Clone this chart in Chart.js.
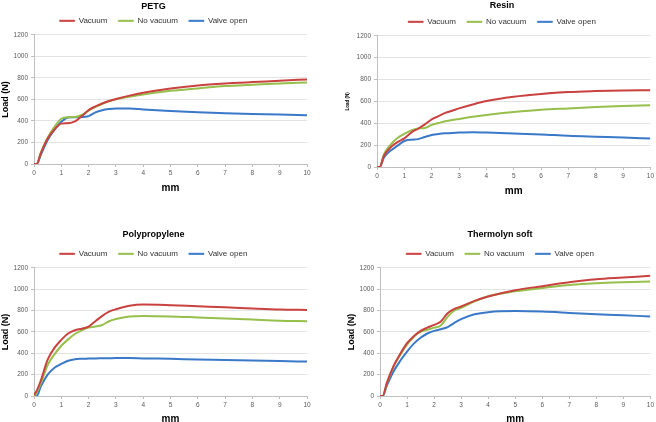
<!DOCTYPE html>
<html>
<head>
<meta charset="utf-8">
<script src="https://cdn.jsdelivr.net/npm/chart.js@4"></script>
<style>
  body { margin: 0; width: 656px; height: 422px; overflow: hidden; background: #fff; position: relative; }
  .panel { position: absolute; }
</style>
</head>
<body>
<div class="panel" style="left:0;top:0;width:328px;height:194px"><canvas id="petg"></canvas></div>
<div class="panel" style="left:328px;top:0;width:328px;height:197px"><canvas id="resin"></canvas></div>
<div class="panel" style="left:0;top:210px;width:328px;height:215px"><canvas id="pp"></canvas></div>
<div class="panel" style="left:328px;top:210px;width:328px;height:215px"><canvas id="thermo"></canvas></div>
<script>
// displacement (mm), shared by all curves
const mm = [0, 0.1, 0.25, 0.5, 0.75, 1, 1.25, 1.5, 1.75, 2, 2.25, 2.5, 2.75, 3, 3.5, 4, 5, 6, 7, 8, 9, 10];
const seriesNames = ['Vacuum', 'No vacuum', 'Valve open'];
const yTicks = [0, 200, 400, 600, 800, 1000, 1200];

// PETG
const petgVacuum = [0, 0, 100, 236, 320, 375, 378, 395, 445, 500, 535, 562, 585, 603, 635, 662, 702, 730, 748, 761, 773, 786];
const petgNoVacuum = [0, 0, 105, 245, 345, 420, 435, 437, 455, 495, 530, 560, 583, 600, 625, 646, 680, 702, 724, 736, 748, 758];
const petgValve = [0, 0, 85, 222, 318, 392, 432, 435, 436, 445, 480, 500, 510, 515, 515, 507, 492, 480, 472, 465, 460, 452];

// Resin
const resinVacuum = [0, 0, 100, 180, 228, 262, 315, 350, 390, 436, 465, 495, 515, 536, 572, 603, 642, 667, 685, 694, 700, 703];
const resinNoVacuum = [0, 0, 115, 205, 265, 303, 335, 352, 357, 385, 402, 418, 430, 440, 460, 476, 503, 524, 536, 548, 558, 564];
const resinValve = [0, 0, 85, 150, 195, 238, 250, 255, 275, 292, 302, 308, 312, 315, 318, 315, 307, 298, 285, 277, 270, 260];

// Polypropylene
const ppVacuum = [10, 50, 145, 340, 450, 525, 585, 615, 630, 650, 700, 750, 790, 812, 845, 856, 850, 840, 831, 819, 809, 806];
const ppNoVacuum = [0, 30, 120, 290, 390, 470, 530, 580, 615, 640, 650, 665, 700, 720, 745, 750, 745, 735, 725, 715, 705, 700];
const ppValve = [0, 0, 90, 200, 265, 300, 330, 345, 348, 350, 352, 353, 354, 355, 355, 352, 348, 342, 338, 333, 327, 322];

// Thermolyn soft
const thVacuum = [0, 0, 120, 280, 395, 494, 560, 609, 640, 666, 697, 775, 815, 838, 890, 931, 990, 1028, 1065, 1093, 1109, 1125];
const thNoVacuum = [0, 0, 115, 275, 385, 480, 555, 600, 620, 640, 660, 740, 800, 825, 885, 934, 980, 1012, 1038, 1055, 1065, 1072];
const thValve = [0, 0, 95, 230, 330, 415, 490, 545, 585, 610, 625, 645, 685, 720, 765, 785, 795, 790, 778, 765, 755, 745];

const colors = ['#c8423f', '#96bf4b', '#3a78c8'];
const FONT = "'Liberation Sans', Arial, sans-serif";

function makeChart(id, title, series, cfg) {
    const datasets = series.map((vals, i) => ({
        label: seriesNames[i],
        data: mm.map((x, j) => ({ x: x, y: vals[j] })),
        borderColor: colors[i],
        backgroundColor: colors[i],
        borderWidth: 2,
        pointRadius: 0,
        cubicInterpolationMode: 'monotone',
        fill: false
    }));

    new Chart(document.getElementById(id), {
        type: 'line',
        data: { datasets },
        options: {
            responsive: true,
            maintainAspectRatio: false,
            animation: false,
            layout: { padding: cfg.padding },
            plugins: {
                title: {
                    display: true,
                    text: title,
                    color: '#000',
                    font: { family: FONT, size: 9, weight: 'bold' },
                    padding: { top: cfg.titleTop, bottom: cfg.titleBottom }
                },
                legend: {
                    display: true,
                    labels: {
                        color: '#333',
                        font: { family: FONT, size: 8 },
                        boxWidth: 15,
                        boxHeight: 1,
                        padding: 11,
                        // thin line sample instead of a box
                        generateLabels: (chart) => Chart.defaults.plugins.legend.labels.generateLabels(chart)
                            .map(l => Object.assign(l, { lineWidth: 1 }))
                    }
                },
                tooltip: { enabled: false }
            },
            scales: {
                x: {
                    type: 'linear',
                    min: 0,
                    max: 10,
                    ticks: { stepSize: 1, color: '#595959', font: { family: FONT, size: 6.5 }, padding: 2, maxRotation: 0 },
                    grid: { drawOnChartArea: false, drawTicks: true, tickLength: 3, color: '#bfbfbf' },
                    border: { display: true, color: '#bfbfbf' },
                    title: {
                        display: true,
                        text: 'mm',
                        color: '#000',
                        font: { family: FONT, size: 10, weight: 'bold' },
                        padding: { top: 4, bottom: 0 }
                    },
                    afterFit: (s) => { s.height = cfg.xHeight; }
                },
                y: {
                    min: 0,
                    max: 1200,
                    afterBuildTicks: (s) => { s.ticks = yTicks.map(v => ({ value: v })); },
                    ticks: { color: '#595959', font: { family: FONT, size: 6.5 }, padding: 3, callback: (v) => String(v) },
                    grid: { color: '#e3e3e3', tickLength: 3, tickColor: '#bfbfbf' },
                    border: { display: true, color: '#bfbfbf' },
                    title: {
                        display: true,
                        text: 'Load (N)',
                        color: '#000',
                        font: { family: FONT, size: cfg.ySize, weight: 'bold' },
                        padding: { top: cfg.yPad, bottom: 0 }
                    },
                    afterFit: (s) => { s.width = cfg.yWidth; }
                }
            }
        }
    });
}

makeChart('petg', 'PETG', [petgVacuum, petgNoVacuum, petgValve],
    { padding: { left: 0, right: 21, top: 0, bottom: 0 }, titleTop: 1, titleBottom: -6, yWidth: 34, xHeight: 30, ySize: 9, yPad: 0 });
makeChart('resin', 'Resin', [resinVacuum, resinNoVacuum, resinValve],
    { padding: { left: 24, right: 4, top: 0, bottom: 0 }, titleTop: 0, titleBottom: -4, yWidth: 25, xHeight: 30, ySize: 4.5, yPad: -7 });
makeChart('pp', 'Polypropylene', [ppVacuum, ppNoVacuum, ppValve],
    { padding: { left: 0, right: 21, top: 0, bottom: 0 }, titleTop: 19, titleBottom: -1, yWidth: 34, xHeight: 29, ySize: 9, yPad: 0 });
makeChart('thermo', 'Thermolyn soft', [thVacuum, thNoVacuum, thValve],
    { padding: { left: 20, right: 4, top: 0, bottom: 0 }, titleTop: 19, titleBottom: -1, yWidth: 32, xHeight: 29, ySize: 9, yPad: -2 });
</script>
</body>
</html>
